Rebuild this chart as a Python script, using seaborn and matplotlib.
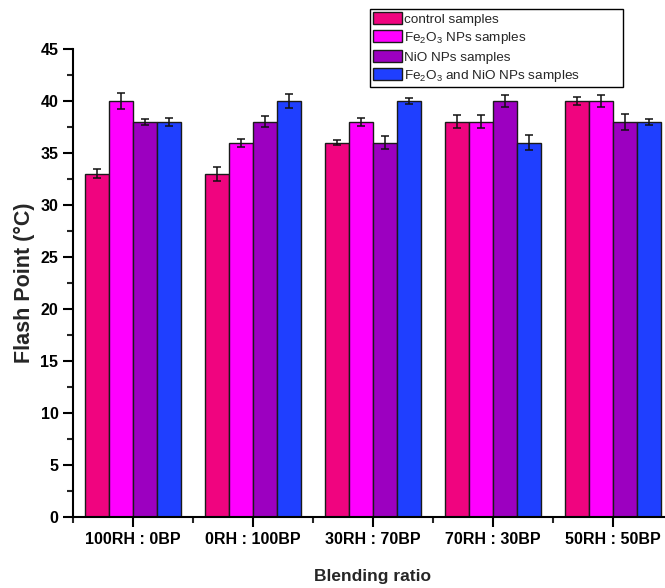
import numpy as np
import pandas as pd
import matplotlib
matplotlib.use('Agg')
import matplotlib.pyplot as plt
from matplotlib.ticker import MultipleLocator, FixedLocator
import seaborn as sns

sns.set_theme(style="ticks")
plt.rcParams['font.family'] = ['Liberation Sans', 'DejaVu Sans']
plt.rcParams['mathtext.default'] = 'regular'

# ── data ─────────────────────────────────────────────
ratios = ['100RH : 0BP', '0RH : 100BP', '30RH : 70BP', '70RH : 30BP', '50RH : 50BP']
series = ['control samples', 'Fe$_2$O$_3$ NPs samples', 'NiO NPs samples',
          'Fe$_2$O$_3$ and NiO NPs samples']
control = [33, 33, 36, 38, 40]
fe2o3   = [40, 36, 38, 38, 40]
nio     = [38, 38, 36, 40, 38]
both    = [38, 40, 40, 36, 38]
err_control = [0.45, 0.65, 0.26, 0.64, 0.42]
err_fe2o3   = [0.75, 0.38, 0.38, 0.64, 0.53]
err_nio     = [0.27, 0.53, 0.62, 0.53, 0.77]
err_both    = [0.40, 0.64, 0.29, 0.69, 0.29]

COLORS = ['#F0047F', '#FF00FF', '#9C00C0', '#1F3FFF']

values = [control, fe2o3, nio, both]
errors = [err_control, err_fe2o3, err_nio, err_both]
df = pd.DataFrame({
    'ratio': np.tile(ratios, len(series)),
    'series': np.repeat(series, len(ratios)),
    'flash': np.concatenate(values),
})

fig = plt.figure(figsize=(6.65, 5.88), dpi=100)
ax = fig.add_axes([73/665, 71/588, 600/665, 468/588])

sns.barplot(data=df, x='ratio', y='flash', hue='series', hue_order=series,
            order=ratios, palette=COLORS, errorbar=None, width=0.8,
            edgecolor='#1a1a1a', linewidth=1.0, saturation=1, ax=ax)

# error bars on each bar
for cont, err in zip(ax.containers, errors):
    xs = [p.get_x() + p.get_width() / 2 for p in cont]
    hs = [p.get_height() for p in cont]
    ax.errorbar(xs, hs, yerr=err, fmt='none', ecolor='#111111',
                elinewidth=1.1, capsize=3, capthick=1.1, zorder=5)

ax.set_xlim(-0.5, 4.5)
ax.set_ylim(0, 45)
ax.yaxis.set_major_locator(MultipleLocator(5))
ax.yaxis.set_minor_locator(MultipleLocator(2.5))
ax.xaxis.set_minor_locator(FixedLocator(np.arange(-0.5, 5, 1.0)))
ax.tick_params(axis='both', which='major', direction='out', length=7, width=1.5,
               labelsize=11.5, colors='black')
ax.tick_params(axis='both', which='minor', direction='out', length=4, width=1.5)
for lab in ax.get_xticklabels() + ax.get_yticklabels():
    lab.set_fontweight('bold')

for s in ['top', 'right']:
    ax.spines[s].set_visible(False)
for s in ['left', 'bottom']:
    ax.spines[s].set_linewidth(1.5)
    ax.spines[s].set_color('black')

ax.set_xlabel('Blending ratio', fontsize=12.5, fontweight='bold', labelpad=16)
ax.set_ylabel('Flash Point (°C)', fontsize=15.5, fontweight='bold', labelpad=4)

ax.get_legend().remove()
handles = [plt.Rectangle((0, 0), 1, 1, facecolor=c, edgecolor='#1a1a1a', linewidth=1.0)
           for c in COLORS]
leg = fig.legend(handles, series, loc='upper left',
                 bbox_to_anchor=(370/665, 1 - 86/588, 253/665, 77/588), mode='expand',
                 fontsize=9.7, frameon=True, fancybox=False, framealpha=1,
                 edgecolor='black', handlelength=2.1, handleheight=1.0,
                 handletextpad=0.15, labelspacing=0.3, borderpad=0.25,
                 borderaxespad=0)
leg.get_frame().set_linewidth(1.0)

plt.savefig('out.png', dpi=100)
plt.close()
